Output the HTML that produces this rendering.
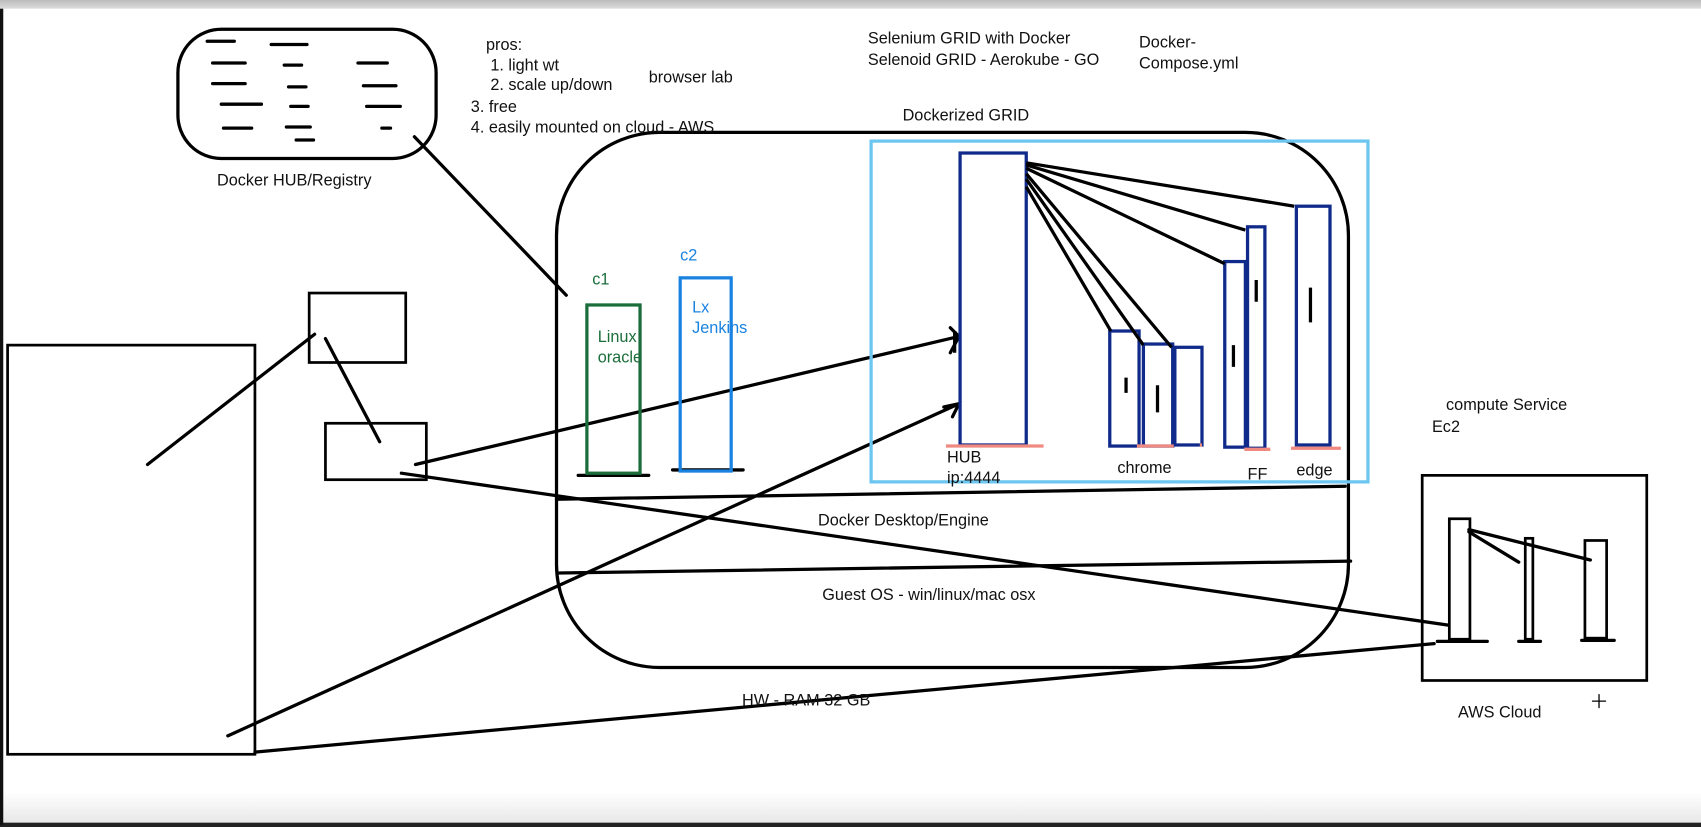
<!DOCTYPE html>
<html><head><meta charset="utf-8"><style>
html,body{margin:0;padding:0;background:#fff;overflow:hidden}
svg{display:block}
text{font-family:"Liberation Sans",sans-serif;font-size:15px;fill:#111}
</style></head><body>
<svg width="1701" height="827" viewBox="0 0 1568 762" preserveAspectRatio="none" xmlns="http://www.w3.org/2000/svg">
<defs><linearGradient id="tg" x1="0" y1="0" x2="0" y2="1"><stop offset="0" stop-color="#bbb"/><stop offset="1" stop-color="#ddd"/></linearGradient>
<linearGradient id="bg" x1="0" y1="0" x2="0" y2="1"><stop offset="0" stop-color="#fff"/><stop offset="1" stop-color="#e8e8e8"/></linearGradient></defs>
<rect x="0" y="0" width="1568" height="8" fill="url(#tg)"/>
<rect x="0" y="730" width="1568" height="28" fill="url(#bg)"/>
<rect x="0" y="758" width="1568" height="4" fill="#222"/>
<rect x="0" y="8" width="3" height="752" fill="#111"/>
<g fill="none" stroke="#000" stroke-width="3" stroke-linecap="round">
<rect x="164" y="27" width="238" height="119" rx="40"/>
<path d="M191 38h25M250 41h33M196 58h30M262 60h16M330 58h27M196 77h30M266 80h16M335 79h30M204 96h37M268 98h16M338 98h31M206 118h26M264 117h22M352 118h8M273 129h16"/>
<path d="M382 126L522 272"/>
<rect x="513" y="122" width="730" height="493" rx="95"/>
<path d="M513 460L1240 448M515 528L1245 517"/>
<rect x="7" y="318" width="228" height="377" stroke-width="2.5"/>
<rect x="285" y="270" width="89" height="64" stroke-width="2.5"/>
<rect x="300" y="390" width="93" height="52" stroke-width="2.5"/>
<path d="M136 428L290 308M300 312L350 407"/>
<path d="M383 428L884 310M876 302L884 310L876 325"/>
<path d="M210 678L884 372M870 375L884 372L878 384"/>
<path d="M370 436L1335 576"/>
<path d="M235 693L1322 593"/>
<path d="M533 438h65M620 433h65"/>
<rect x="1311" y="438" width="207" height="189" stroke-width="2.5"/>
<rect x="1336" y="478" width="19" height="111" stroke-width="2.5"/>
<rect x="1406" y="496" width="7" height="93" stroke-width="2.5"/>
<rect x="1461" y="498" width="20" height="90" stroke-width="2.5"/>
<path d="M1325 591h46M1400 591h20M1458 590h30M1354 490L1400 518M1354 488L1466 516"/>
<path d="M1468 646h12M1474 640v12" stroke-width="1.2"/>
</g>
<rect x="541" y="281" width="49" height="155" fill="none" stroke="#1b6e3c" stroke-width="3"/>
<rect x="627" y="256" width="47" height="178" fill="none" stroke="#1a82e0" stroke-width="3"/>
<rect x="803" y="130" width="458" height="314" fill="none" stroke="#6cc6f0" stroke-width="3"/>
<g fill="none" stroke="#0f2a8a" stroke-width="3">
<rect x="885" y="141" width="61" height="269"/>
<rect x="1023" y="305" width="27" height="106"/>
<rect x="1054" y="317" width="27" height="94"/>
<rect x="1083" y="320" width="25" height="90"/>
<rect x="1129" y="241" width="19" height="171"/>
<rect x="1150" y="209" width="16" height="204"/>
<rect x="1195" y="190" width="31" height="220"/>
</g>
<g stroke="#000" stroke-width="3" fill="none">
<path d="M946 150L1193 190M946 152L1148 212M946 155L1129 243M946 160L1080 320M946 165L1054 318M946 172L1024 305"/>
<path d="M1038 348v14M1067 355v25M1137 318v20M1158 258v20M1208 265v32M880 305v20"/>
</g>
<g stroke="#f08a80" stroke-width="3"><path d="M872 411h90M1048 411h34M1106 410h2M1147 414h24M1190 413h46"/></g>
<text x="448" y="46">pros:</text>
<text x="452" y="65">1. light wt</text>
<text x="452" y="83">2. scale up/down</text>
<text x="598" y="76">browser lab</text>
<text x="434" y="103">3. free</text>
<text x="434" y="122">4. easily mounted on cloud - AWS</text>
<text x="200" y="171">Docker HUB/Registry</text>
<text x="800" y="40">Selenium GRID with Docker</text>
<text x="800" y="60">Selenoid GRID - Aerokube - GO</text>
<text x="1050" y="44">Docker-</text>
<text x="1050" y="63">Compose.yml</text>
<text x="832" y="111">Dockerized GRID</text>
<text x="546" y="262" style="fill:#1b6e3c">c1</text>
<text x="627" y="240" style="fill:#1a82e0">c2</text>
<text x="551" y="315" style="fill:#1b6e3c">Linux</text>
<text x="551" y="334" style="fill:#1b6e3c">oracle</text>
<text x="638" y="288" style="fill:#1a82e0">Lx</text>
<text x="638" y="307" style="fill:#1a82e0">Jenkins</text>
<text x="873" y="426">HUB</text>
<text x="873" y="445">ip:4444</text>
<text x="1030" y="436">chrome</text>
<text x="1150" y="442">FF</text>
<text x="1195" y="438">edge</text>
<text x="754" y="484">Docker Desktop/Engine</text>
<text x="758" y="553">Guest OS - win/linux/mac osx</text>
<text x="684" y="650">HW - RAM 32 GB</text>
<text x="1333" y="378">compute Service</text>
<text x="1320" y="398">Ec2</text>
<text x="1344" y="661">AWS Cloud</text>
</svg>
</body></html>
